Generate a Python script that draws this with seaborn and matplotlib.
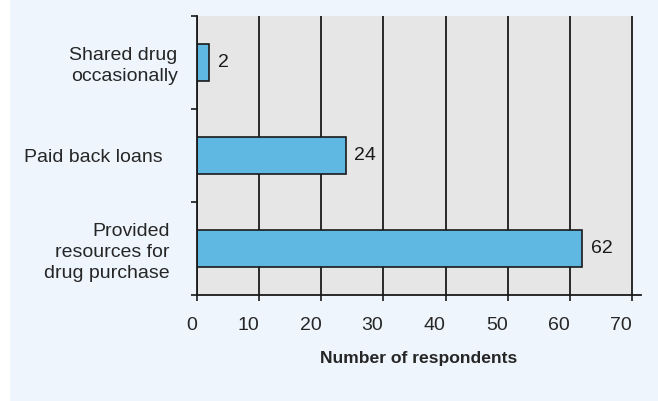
import matplotlib
matplotlib.use("Agg")
import matplotlib.pyplot as plt
from matplotlib.patches import Rectangle
from matplotlib.transforms import ScaledTranslation
import seaborn as sns
import pandas as pd

categories = ["Shared drug\noccasionally", "Paid back loans", "Provided\nresources for\ndrug purchase"]
values = [2, 24, 62]
x_ticks = [0, 10, 20, 30, 40, 50, 60, 70]
x_label = "Number of respondents"

sns.set_style("white")
plt.rcParams['font.family'] = ['Liberation Sans', 'DejaVu Sans']

FIG_BG = '#EEF5FD'
AX_BG = '#E6E6E6'
BAR = '#5FB8E2'
FS = 14

fig = plt.figure(figsize=(6.58, 4.01), dpi=100, facecolor=FIG_BG)
fig.patches.append(Rectangle((0, 0), 10 / 658, 1, transform=fig.transFigure,
                             facecolor='white', edgecolor='none', zorder=0))
ax = fig.add_axes([197 / 658, 106 / 401, 444 / 658, 279 / 401])
ax.set_facecolor('none')

df = pd.DataFrame({'category': categories, 'value': values})
sns.barplot(data=df, x='value', y='category', orient='h', color=BAR, saturation=1,
            edgecolor='#1a1a1a', linewidth=1.2, width=0.4, ax=ax)

ax.set_xlim(0, 71.45)
ax.set_ylim(2.5, -0.5)
ax.axvspan(0, 70, color=AX_BG, zorder=0, lw=0)

for sp in ['top', 'right']:
    ax.spines[sp].set_visible(False)
for sp in ['left', 'bottom']:
    ax.spines[sp].set_color('#1a1a1a')
    ax.spines[sp].set_linewidth(1.3)

ax.set_axisbelow(True)
ax.set_xticks(x_ticks)
ax.set_xticklabels([str(t) for t in x_ticks], ha='right', fontsize=FS)
ax.grid(axis='x', color='#1a1a1a', linewidth=1.3)
ax.grid(axis='y', visible=False)
ax.tick_params(axis='x', direction='out', length=4, width=1.2, color='#1a1a1a',
               pad=12, bottom=True)

ax.set_yticks([-0.5, 0.5, 1.5, 2.5])
ax.set_yticklabels([])
ax.set_yticks([0, 1, 2], labels=categories, minor=True)
ax.tick_params(axis='y', which='major', direction='out', length=4, width=1.2,
               color='#1a1a1a', left=True)
ax.tick_params(axis='y', which='minor', length=0, pad=14, labelsize=FS)

shifts = [0.0, -0.15, -0.08]
for lab, dx in zip(ax.get_yticklabels(minor=True), shifts):
    lab.set_linespacing(1.3)
    lab.set_transform(lab.get_transform() + ScaledTranslation(dx, 0, fig.dpi_scale_trans))

ax.set_ylabel('')
ax.set_xlabel(x_label, fontsize=12.6, fontweight='bold', labelpad=12)

for i, v in enumerate(values):
    ax.annotate(str(v), xy=(v, i), xytext=(6, 0), textcoords='offset points',
                ha='left', va='center', fontsize=FS, color='#1a1a1a')

fig.savefig('out.png', dpi=100, facecolor=FIG_BG)
